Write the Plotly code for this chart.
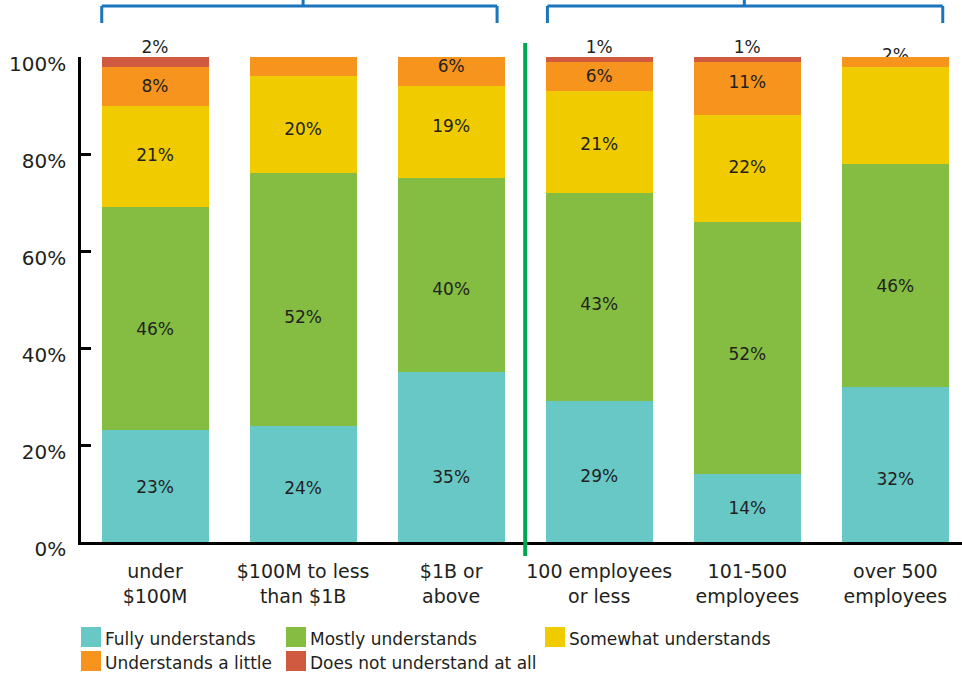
import plotly.graph_objects as go

# ---- data -----------------------------------------------------------------
categories = [
    "under<br>$100M",
    "$100M to less<br>than $1B",
    "$1B or<br>above",
    "100 employees<br>or less",
    "101-500<br>employees",
    "over 500<br>employees",
]
series_names = [
    "Fully understands",
    "Mostly understands",
    "Somewhat understands",
    "Understands a little",
    "Does not understand at all",
]
fully = [23, 24, 35, 29, 14, 32]
mostly = [46, 52, 40, 43, 52, 46]
somewhat = [21, 20, 19, 21, 22, 20]
little = [8, 4, 6, 6, 11, 2]
not_at_all = [2, 0, 0, 1, 1, 0]
series_values = [fully, mostly, somewhat, little, not_at_all]

y_ticks = [0, 20, 40, 60, 80, 100]

# 1 = value printed inside the segment, 0 = segment left unlabeled
inside_label = [
    [1, 1, 1, 1, 1, 1],
    [1, 1, 1, 1, 1, 1],
    [1, 1, 1, 1, 1, 0],
    [1, 0, 1, 1, 1, 0],
    [0, 0, 0, 0, 0, 0],
]
# series whose value is printed on top of each bar (None = nothing on top)
above_label_series = [4, None, None, 4, 4, 3]
above_label_pos = ["top center", None, None, "top center", "top center", "middle center"]

# ---- styling --------------------------------------------------------------
colors = ["#67c8c6", "#84bd41", "#f0cb00", "#f7941e", "#cf5a3f"]
FONT = "DejaVu Sans"
INK = "#231f20"
W, H = 962, 677
ML, MR, MT, MB = 81, 0, 57, 135
PW, PH = W - ML - MR, H - MT - MB
PX_PER_UNIT = PH / 100.0

# vertical nudges (pixels, positive = down) of the in-bar value labels
LABEL_BASELINE_PX = 2
label_nudge_px = [
    [1, 4, 20, 4, 0, 14],
    [10, 17, 13, 7, 6, 10],
    [-2, 4, -6, 2, -2, 0],
    [0, 0, -6, -1, -7, 0],
    [0, 0, 0, 0, 0, 0],
]


def px_x(px):
    return (px - ML) / PW


def px_y(py):
    return (H - MB - py) / PH


fig = go.Figure()

# labels above the stacks sit on the base subplot so the bars overlay them
ax_x, ax_y, ax_t, ax_p = [], [], [], []
for i, s in enumerate(above_label_series):
    if s is None:
        continue
    ax_x.append(categories[i])
    ax_y.append(sum(v[i] for v in series_values))
    ax_t.append(f"{series_values[s][i]}%")
    ax_p.append(above_label_pos[i])
fig.add_trace(go.Scatter(
    x=ax_x, y=ax_y, text=ax_t, mode="text", textposition=ax_p,
    textfont=dict(family=FONT, size=17, color=INK),
    cliponaxis=False, showlegend=False, hoverinfo="skip",
    xaxis="x", yaxis="y",
))

# stacked bars
for name, vals, col in zip(series_names, series_values, colors):
    fig.add_trace(go.Bar(
        x=categories, y=vals, name=name,
        marker=dict(color=col, line=dict(width=0)),
        showlegend=False, hovertemplate="%{x}: %{y}%<extra>" + name + "</extra>",
        xaxis="x", yaxis="y2",
    ))

# in-bar value labels, placed from each segment's base and size
lab_x, lab_y, lab_t = [], [], []
base = [0] * len(categories)
for vals, flags, nudges in zip(series_values, inside_label, label_nudge_px):
    for i, (v, f, n) in enumerate(zip(vals, flags, nudges)):
        if f:
            lab_x.append(categories[i])
            lab_y.append(base[i] + v / 2 - (n + LABEL_BASELINE_PX) / PX_PER_UNIT)
            lab_t.append(f"{v}%")
        base[i] += v
fig.add_trace(go.Scatter(
    x=lab_x, y=lab_y, text=lab_t, mode="text", textposition="middle center",
    textfont=dict(family=FONT, size=17, color=INK),
    cliponaxis=False, showlegend=False, hoverinfo="skip",
    xaxis="x", yaxis="y2",
))

shapes = []
annotations = []

# group brackets above the two halves of the chart
BLUE = "#1b75bc"
y_top, y_bar, y_leg = px_y(0), px_y(6), px_y(23)
for x0, xc, x1 in [(-0.36, 1.0, 2.31), (2.65, 3.98, 5.32)]:
    for (a, b, c, d) in [(x0, y_leg, x0, y_bar), (x0, y_bar, x1, y_bar),
                         (x1, y_bar, x1, y_leg), (xc, y_bar, xc, y_top)]:
        shapes.append(dict(type="line", xref="x", yref="paper",
                           x0=a, y0=b, x1=c, y1=d,
                           line=dict(color=BLUE, width=3)))

# divider between revenue and company-size groups
shapes.append(dict(type="line", xref="x", yref="paper",
                   x0=2.5, x1=2.5, y0=px_y(556), y1=px_y(43),
                   line=dict(color="#00a651", width=4), layer="above"))

# legend: colour squares with labels, three columns, two rows
legend_cols = [81, 286, 545]
legend_rows = [637, 661]
slots = [(0, 0), (1, 0), (2, 0), (0, 1), (1, 1)]
for name, col, (c, r) in zip(series_names, colors, slots):
    x0 = legend_cols[c]
    yc = legend_rows[r]
    shapes.append(dict(type="rect", xref="paper", yref="paper",
                       x0=px_x(x0), x1=px_x(x0 + 20),
                       y0=px_y(yc + 10), y1=px_y(yc - 10),
                       fillcolor=col, line=dict(width=0)))
    annotations.append(dict(xref="paper", yref="paper", x=px_x(x0 + 22), y=px_y(yc + 1.5),
                            text=name, showarrow=False, xanchor="left", yanchor="middle",
                            font=dict(family=FONT, size=17, color=INK)))

fig.update_layout(
    width=W, height=H,
    margin=dict(l=ML, r=MR, t=MT, b=MB, pad=0),
    paper_bgcolor="white", plot_bgcolor="white",
    barmode="stack", bargap=0.277,
    font=dict(family=FONT, color=INK),
    xaxis=dict(type="category", categoryorder="array", categoryarray=categories,
               range=[-0.5, 5.45], showgrid=False, zeroline=False,
               showline=True, linecolor="black", linewidth=3, ticks="",
               tickfont=dict(family=FONT, size=19, color=INK),
               ticklabelstandoff=10, fixedrange=True),
    yaxis=dict(range=[0, 100], tickmode="array", tickvals=y_ticks,
               ticktext=[f"{v}%" for v in y_ticks],
               showgrid=False, zeroline=False, showline=True, linecolor="black",
               linewidth=2.5, ticks="inside", ticklen=10, tickwidth=2.5, tickcolor="black",
               tickfont=dict(family=FONT, size=20, color=INK),
               ticklabelstandoff=8, ticklabelshift=7, fixedrange=True),
    yaxis2=dict(range=[0, 100], overlaying="y", visible=False, fixedrange=True),
    shapes=shapes,
    annotations=annotations,
    showlegend=False,
)

fig.write_html("out.html")
